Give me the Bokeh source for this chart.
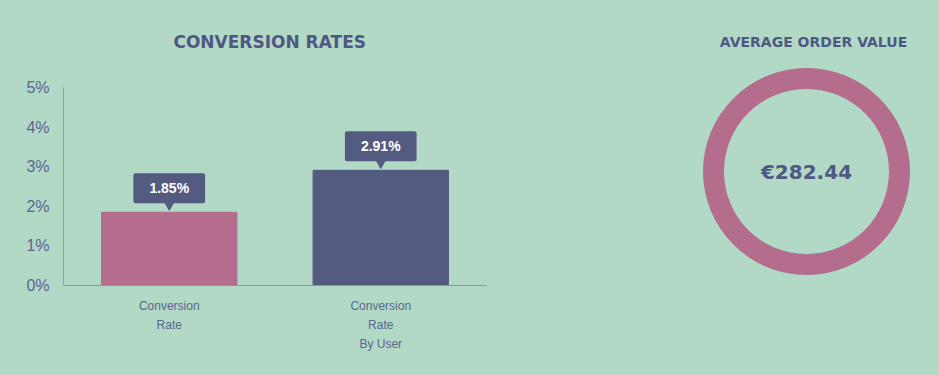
from bokeh.plotting import figure
from bokeh.layouts import row
from bokeh.models import FactorRange, Range1d, FixedTicker, PrintfTickFormatter, Label, ColumnDataSource
from bokeh.transform import dodge
from bokeh.core.properties import value
from bokeh.embed import file_html
from bokeh.resources import INLINE

BG = "#b2d8c6"
PINK = "#b46d8d"
NAVY = "#545b81"
TEXT = "#4e5883"
AXIS_TEXT = "#5b6590"

# ---- data ----
categories = ["Conversion\nRate", "Conversion\nRate\nBy User"]
rates = [1.85, 2.91]
rate_labels = ["1.85%", "2.91%"]
bar_colors = [PINK, NAVY]
y_ticks = [0, 1, 2, 3, 4, 5]
title_left = "CONVERSION RATES"
title_right = "AVERAGE ORDER VALUE"
aov_text = "€282.44"

src = ColumnDataSource(dict(cat=categories, rate=rates, label=rate_labels, color=bar_colors))

p = figure(x_range=FactorRange(factors=categories, range_padding=0),
           y_range=Range1d(0, 7.2), width=640, height=375,
           output_backend="svg", toolbar_location=None, frame_align=False,
           min_border_left=63, min_border_right=154, min_border_top=0, min_border_bottom=90)
p.background_fill_color = BG
p.border_fill_color = BG
p.outline_line_color = None
p.grid.visible = False

p.vbar(x="cat", top="rate", width=0.64, color="color", source=src)
p.scatter(x="cat", y=dodge("rate", 0.18, range=p.y_range), marker="inverted_triangle",
          size=9, color=NAVY, source=src)
p.text(x="cat", y="rate", text="label", y_offset=-24, text_align="center", text_baseline="middle",
       text_color="white", text_font=value("Liberation Sans"), text_font_style="bold",
       text_font_size="14px", background_fill_color=NAVY, padding=(16, 7), border_radius=2,
       source=src)

ya = p.yaxis[0]
ya.ticker = FixedTicker(ticks=y_ticks)
ya.bounds = (y_ticks[0], y_ticks[-1])
ya.formatter = PrintfTickFormatter(format="%d%%")
ya.major_tick_line_color = None
ya.minor_tick_line_color = None
ya.axis_line_color = "#8aa0b8"
ya.major_label_text_font = "Liberation Sans"
ya.major_label_text_font_size = "16px"
ya.major_label_text_color = AXIS_TEXT
ya.major_label_standoff = 8

xa = p.xaxis[0]
xa.major_tick_line_color = None
xa.minor_tick_line_color = None
xa.axis_line_color = "#8496b4"
xa.major_label_text_font = "Liberation Sans"
xa.major_label_text_font_size = "12px"
xa.major_label_text_color = AXIS_TEXT
xa.major_label_text_line_height = 1.38
xa.major_label_standoff = 7

p.add_layout(Label(x=0.975, y=6.14, text=title_left, text_align="center", text_baseline="middle",
                   text_font="DejaVu Sans", text_font_style="bold", text_font_size="17px",
                   text_color=TEXT))

q = figure(width=299, height=375, x_range=Range1d(-166, 133), y_range=Range1d(-204, 171),
           output_backend="svg", toolbar_location=None, frame_align=False,
           x_axis_location=None, y_axis_location=None,
           min_border_left=0, min_border_right=0, min_border_top=0, min_border_bottom=0)
q.background_fill_color = BG
q.border_fill_color = BG
q.outline_line_color = None
q.grid.visible = False

q.annulus(x=[0], y=[0], inner_radius=83, outer_radius=103, color=PINK)
q.text(x=[0], y=[0], text=[aov_text], text_align="center", text_baseline="middle",
       text_font=value("DejaVu Sans"), text_font_style="bold", text_font_size="20px",
       text_color=TEXT)
q.add_layout(Label(x=7, y=130, text=title_right, text_align="center", text_baseline="middle",
                   text_font="DejaVu Sans", text_font_style="bold", text_font_size="14px",
                   text_color=TEXT))

layout = row(p, q, spacing=0)
html = file_html(layout, INLINE)
html = html.replace("<head>", "<head><style>html,body{background:%s;margin:0;}</style>" % BG, 1)
open("out.html", "w").write(html)
